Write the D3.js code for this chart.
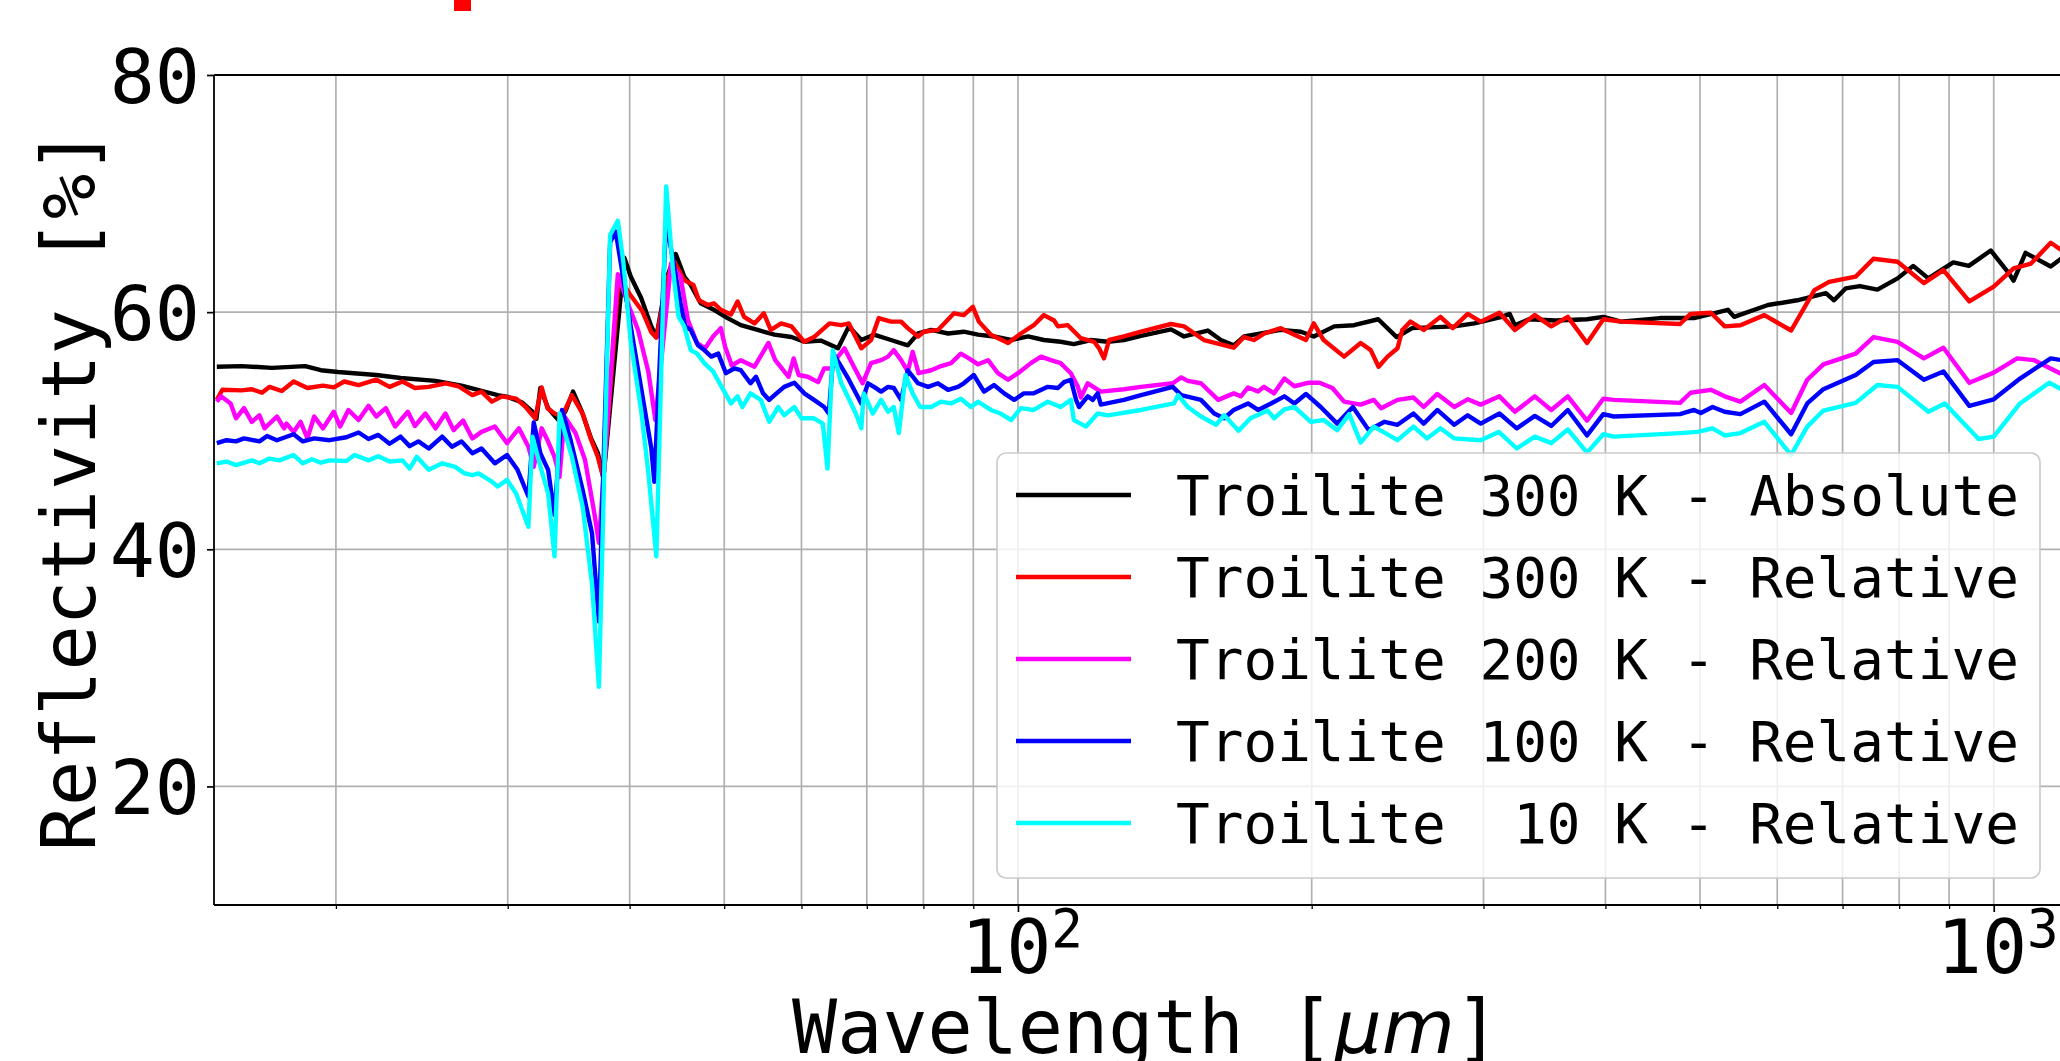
<!DOCTYPE html>
<html><head><meta charset="utf-8">
<script src="https://cdn.jsdelivr.net/npm/d3@7"></script>
<style>
body{margin:0;background:#fff;}
svg{display:block;}
text{font-family:"DejaVu Sans Mono",monospace;}
</style>
</head><body>
<svg id="chart" width="2060" height="1061"></svg>
<script>
// ---------------- data (wavelength in µm, reflectivity in %) ----------------
const seriesLabels = [
  "Troilite 300 K - Absolute",
  "Troilite 300 K - Relative",
  "Troilite 200 K - Relative",
  "Troilite 100 K - Relative",
  "Troilite  10 K - Relative"
];
const seriesColors = ["#000000", "#ff0000", "#ff00ff", "#0000ff", "#00ffff"];

const abs300 = [[15.1,55.4],[16.0,55.45],[17.2,55.3],[18.6,55.45],[19.3,55.1],[20.1,54.95],[22.0,54.7],[23.3,54.45],[25.3,54.2],[26.9,53.8],[28.2,53.35],[29.3,53.0],[30.0,52.85],[31.0,52.4],[31.8,51.6],[32.1,51.0],[32.4,53.6],[33.0,51.9],[33.9,50.8],[34.4,51.7],[35.0,53.3],[35.7,51.7],[36.5,49.4],[37.1,48.15],[37.6,46.0],[39.5,64.6],[40.1,63.0],[41.1,61.2],[42.1,58.8],[42.6,57.9],[43.7,63.0],[44.6,64.9],[45.5,63.0],[46.2,62.3],[47.3,60.75],[48.8,60.2],[50.4,59.5],[52.0,58.9],[54.1,58.5],[56.3,58.1],[58.6,57.9],[60.4,57.5],[62.8,57.6],[65.4,56.95],[67.1,58.8],[69.1,57.65],[71.2,58.1],[74.1,57.65],[77.1,57.2],[79.0,58.2],[81.5,58.5],[84.8,58.2],[88.0,58.35],[91.0,58.1],[94.5,57.95],[98.4,57.65],[102.4,57.95],[106.3,57.65],[110.6,57.5],[114.1,57.3],[118.8,57.65],[123.6,57.5],[128.4,57.65],[133.7,58.0],[143.5,58.55],[148.0,57.95],[156.5,58.45],[161.4,57.65],[166.4,57.2],[170.5,57.95],[185.9,58.5],[195.0,58.35],[201.0,57.95],[210.9,58.8],[221.0,58.9],[234.0,59.4],[244.4,57.9],[253.5,58.65],[280,58.8],[293.6,59.05],[313.2,59.6],[319.1,59.85],[323,58.9],[334,59.4],[355.6,59.3],[383,59.4],[398,59.6],[415,59.2],[455,59.5],[493,59.5],[534,60.2],[542,59.6],[587,60.6],[629,61.0],[673,61.6],[686,61.0],[705,62.0],[729,62.2],[760,61.9],[797,62.85],[827,63.9],[857,62.85],[909,64.2],[943,63.9],[993,65.2],[1036,63.3],[1048,62.65],[1078,65.0],[1109,64.45],[1144,63.85],[1185,64.8]];

const rel300 = [[15.1,52.6],[15.3,53.45],[16.0,53.4],[16.4,53.5],[16.8,53.2],[17.1,53.7],[17.6,53.35],[18.1,54.15],[18.7,53.6],[19.4,53.8],[19.9,53.65],[20.4,54.15],[21.1,53.85],[22.0,54.3],[22.7,53.7],[23.4,54.15],[24.1,53.6],[24.9,53.7],[25.9,54.0],[26.7,53.75],[27.6,53.0],[28.2,53.3],[28.9,52.45],[29.6,52.9],[30.6,52.7],[31.3,52.0],[32.0,51.05],[32.5,53.65],[32.95,51.9],[33.5,51.45],[34.1,51.2],[34.9,53.0],[35.8,51.45],[36.5,49.3],[37.1,47.8],[37.6,46.0],[39.0,63.0],[40.1,61.4],[41.2,60.1],[42.1,58.3],[42.6,57.85],[43.8,63.0],[44.4,64.3],[45.5,62.7],[46.5,62.3],[47.1,61.0],[48.1,60.6],[48.8,60.75],[49.6,60.2],[50.8,59.8],[51.6,60.9],[52.4,59.6],[53.7,59.05],[54.9,59.9],[55.8,58.5],[57.2,59.05],[58.6,58.8],[60.4,57.5],[61.8,57.9],[64.1,59.05],[65.9,58.9],[67.1,59.05],[69.1,56.95],[70.7,57.65],[72.0,59.5],[74.1,59.2],[75.9,59.2],[77.1,58.65],[79.0,57.95],[80.1,58.35],[82.8,58.5],[86.0,59.9],[88.0,59.75],[89.9,60.45],[91.2,59.2],[93.8,58.1],[97.7,57.4],[100.7,58.2],[103.8,58.9],[106.3,59.75],[108.9,59.3],[109.9,58.8],[112.5,58.9],[116.0,57.8],[119.7,57.5],[121.1,56.95],[122.5,56.1],[124.0,57.65],[128.4,57.95],[133.7,58.35],[143.5,59.0],[148.0,58.8],[155.1,57.65],[166.4,57.0],[170.5,57.9],[174.5,57.65],[178.9,58.2],[185.9,58.65],[192.0,58.1],[197.3,57.65],[201.0,59.05],[205.7,57.65],[215.9,56.25],[224.5,57.4],[229.9,56.8],[234.2,55.4],[239.2,56.25],[244.9,56.95],[247.7,58.5],[252.5,59.2],[260.5,58.5],[271,59.6],[279,58.65],[289,59.85],[298,59.2],[311.5,59.95],[323,58.5],[338.6,59.75],[352,58.8],[366,59.6],[383,57.4],[398,59.4],[415,59.2],[477,59.0],[489,59.85],[513,59.95],[530,58.8],[550,58.9],[582,59.75],[620,58.45],[655,61.85],[678,62.55],[722,63.0],[753,64.5],[797,64.25],[848,62.45],[888,63.55],[944,60.9],[1000,62.15],[1048,63.7],[1092,64.1],[1144,65.85],[1185,65.0]];

const rel200 = [[15.1,52.45],[15.25,52.9],[15.6,52.3],[15.8,51.05],[16.1,51.9],[16.4,50.75],[16.7,51.3],[16.9,50.2],[17.4,51.2],[17.7,50.2],[17.8,50.6],[18.1,49.9],[18.4,50.75],[18.7,49.35],[19.0,51.2],[19.4,50.2],[19.9,51.6],[20.2,50.35],[20.6,51.75],[21.1,50.9],[21.6,52.1],[22.0,51.2],[22.5,51.9],[23.0,50.35],[23.7,51.6],[24.1,50.4],[24.7,51.45],[25.3,50.2],[25.9,51.45],[26.4,50.05],[27.0,50.85],[27.6,49.35],[28.2,49.9],[29.1,50.35],[29.95,48.95],[30.8,50.2],[31.5,48.65],[31.9,46.95],[32.5,50.2],[32.95,49.2],[33.5,47.8],[33.9,46.1],[34.3,51.2],[35.2,49.8],[36.0,47.55],[36.8,43.05],[37.2,40.55],[38.9,63.2],[39.8,60.8],[40.8,58.5],[41.8,55.0],[42.5,50.9],[44.1,64.1],[45.1,63.0],[45.9,59.3],[46.9,57.4],[47.8,56.95],[48.7,57.95],[49.6,58.65],[50.1,57.1],[50.9,55.5],[52.0,55.95],[53.7,55.4],[55.5,57.4],[56.4,55.95],[58.2,54.55],[58.9,56.1],[59.6,54.7],[60.9,54.55],[62.4,54.1],[63.3,55.25],[64.3,55.25],[65.4,56.25],[66.4,56.95],[67.9,55.4],[69.3,54.0],[70.7,55.7],[72.4,55.95],[73.6,56.25],[74.6,56.8],[75.9,55.95],[77.1,55.0],[78.0,56.65],[79.1,54.85],[81.5,55.1],[83.4,55.45],[85.4,55.7],[87.4,56.5],[89.5,56.0],[91.0,55.6],[93.2,55.95],[95.4,54.85],[97.7,54.3],[100.0,54.85],[103.1,55.7],[105.6,56.25],[108.1,55.95],[110.6,55.7],[113.3,54.85],[115.2,53.7],[116.0,52.8],[117.9,54.0],[121.6,53.3],[128.4,53.5],[133.7,53.7],[144.1,54.0],[147.0,54.5],[149.3,54.2],[154.0,54.0],[160.4,52.6],[166.4,53.15],[169.2,52.9],[172.1,53.65],[176.2,53.3],[178.7,53.7],[183.0,53.15],[187.5,54.4],[192.0,53.75],[198.6,54.05],[203.7,54.05],[210.0,53.6],[215.9,52.45],[224.5,52.2],[231.6,52.6],[235.6,51.9],[244.9,52.6],[254.3,52.8],[260.5,52.0],[269,53.1],[280,52.0],[289,52.65],[298,52.2],[311.5,52.9],[323,51.6],[338.6,52.9],[352,51.75],[366,52.9],[383,50.85],[398,52.7],[408,52.6],[477,52.35],[489,53.2],[513,53.45],[530,52.9],[550,52.45],[582,53.85],[620,51.5],[644,54.3],[669,55.6],[722,56.5],[753,57.9],[797,57.5],[848,56.1],[888,57.0],[944,54.05],[1000,54.9],[1057,56.1],[1100,55.95],[1185,54.6]];

const rel100 = [[15.1,48.95],[15.45,49.2],[15.8,49.1],[16.1,49.35],[16.7,49.1],[17.0,49.55],[17.4,49.2],[18.1,49.7],[18.5,49.1],[19.0,49.35],[19.7,49.2],[20.5,49.45],[21.1,49.85],[21.6,49.3],[22.1,49.65],[22.7,48.9],[23.3,49.5],[23.8,48.7],[24.3,49.1],[24.9,48.5],[25.7,49.5],[26.3,48.65],[26.9,49.1],[27.6,48.1],[28.2,48.5],[29.1,47.25],[29.95,47.95],[30.7,46.7],[31.5,44.45],[31.9,50.7],[32.4,48.1],[33.0,46.7],[33.5,42.9],[34.1,51.75],[34.8,49.2],[35.8,45.0],[36.6,41.35],[37.2,33.9],[38.2,65.9],[38.7,66.8],[39.2,64.0],[40.1,58.8],[41.1,53.6],[42.1,48.5],[42.4,45.7],[43.6,67.7],[44.3,64.4],[45.1,60.75],[45.6,58.8],[46.2,58.5],[47.0,57.2],[47.7,56.8],[48.5,56.25],[49.3,56.5],[50.2,54.85],[51.2,55.25],[52.0,55.1],[53.2,54.0],[53.9,54.55],[54.8,53.15],[55.6,52.6],[56.3,53.0],[57.6,53.7],[59.0,54.05],[60.4,53.15],[61.8,52.6],[63.3,52.0],[64.0,51.45],[64.7,56.5],[65.9,55.4],[67.1,54.3],[69.1,52.3],[70.2,54.0],[71.2,53.7],[72.4,53.3],[73.6,53.7],[74.6,53.6],[75.9,52.6],[77.1,55.1],[79.0,54.0],[80.9,53.7],[82.8,54.0],[84.8,53.45],[86.8,53.7],[88.0,54.0],[90.1,54.7],[92.3,53.3],[94.5,53.85],[96.8,53.15],[99.1,52.6],[101.4,53.15],[103.8,53.15],[107.3,53.7],[109.9,53.6],[111.5,54.1],[113.3,54.3],[114.7,52.6],[115.5,52.0],[117.9,52.9],[119.3,52.6],[120.7,53.15],[121.6,52.2],[128.4,52.6],[133.7,53.0],[144.1,53.7],[147.0,53.0],[154.0,52.6],[158.9,51.45],[162.7,51.05],[166.4,51.75],[172.1,52.3],[176.2,51.75],[181.7,52.3],[187.5,52.9],[192.0,52.3],[197.3,53.1],[204.3,52.0],[212.4,50.6],[220.4,52.0],[228.8,50.05],[237.5,50.75],[244.9,50.5],[254.3,51.45],[260.5,50.6],[269,51.75],[280,50.5],[289,51.3],[298,50.6],[311.5,51.45],[324.5,50.2],[338.6,51.25],[352,50.4],[366,51.75],[383,49.6],[398,51.4],[408,51.2],[477,51.4],[493,51.75],[501,51.5],[515,52.0],[530,51.6],[550,51.4],[582,52.45],[620,49.7],[644,52.3],[669,53.5],[722,54.7],[753,55.8],[797,55.95],[848,54.3],[888,55.0],[944,52.1],[1000,52.65],[1064,54.4],[1144,56.1],[1185,55.9]];

const rel10 = [[15.1,47.25],[15.45,47.4],[15.8,47.1],[16.4,47.5],[16.7,47.25],[17.1,47.65],[17.5,47.5],[18.1,47.95],[18.5,47.25],[18.9,47.6],[19.3,47.3],[19.7,47.5],[20.5,47.45],[20.9,47.95],[21.6,47.5],[22.1,47.85],[22.7,47.4],[23.4,47.5],[23.8,46.8],[24.2,47.8],[24.9,46.7],[25.7,47.25],[26.5,46.95],[27.1,46.4],[27.6,46.25],[28.0,46.4],[28.9,45.7],[29.3,45.3],[29.95,45.85],[30.6,44.7],[31.5,41.9],[31.8,49.5],[32.4,47.0],[33.0,44.7],[33.5,39.4],[33.9,51.45],[34.9,47.8],[35.8,43.6],[36.6,37.1],[37.2,28.4],[38.2,66.5],[38.9,67.7],[39.4,64.3],[40.1,57.5],[41.1,51.7],[41.8,46.5],[42.6,39.4],[43.6,70.6],[44.3,63.55],[44.9,59.6],[45.5,58.8],[46.2,56.8],[46.9,56.5],[47.7,55.7],[48.7,55.0],[49.7,53.7],[50.8,52.3],[51.6,52.9],[52.2,52.0],[53.2,53.15],[54.5,52.6],[55.6,50.75],[56.8,52.0],[57.6,51.3],[59.0,52.0],[60.0,51.05],[61.8,51.05],[63.1,50.6],[63.8,46.8],[64.6,56.8],[65.9,54.0],[66.9,52.9],[68.2,51.45],[69.1,50.2],[69.5,53.15],[71.0,51.45],[72.4,52.6],[73.6,51.6],[74.6,52.0],[75.5,49.8],[76.7,54.7],[78.0,53.15],[79.4,52.0],[81.5,52.0],[83.4,52.45],[85.4,52.3],[87.4,52.7],[89.5,52.0],[91.0,52.45],[93.8,51.75],[96.0,51.45],[98.4,50.9],[100.7,51.9],[103.8,51.75],[107.3,52.45],[110.6,52.0],[113.3,52.6],[114.1,50.9],[117.4,50.35],[120.7,51.45],[123.6,51.3],[133.7,51.75],[144.5,52.3],[145.9,53.0],[149.3,52.0],[154.0,51.2],[159.6,50.5],[162.7,51.3],[168.3,50.0],[173.1,51.05],[180.3,51.7],[183.0,51.05],[187.5,51.8],[192.0,52.0],[199.6,50.75],[205.7,50.9],[212.4,50.05],[218.5,51.4],[224.5,49.0],[231.6,50.35],[244.9,49.2],[254.3,50.35],[262.5,49.35],[271,50.2],[280,49.35],[298,49.2],[311,49.9],[324.5,48.5],[338.6,49.5],[352,48.95],[366,50.1],[383,48.15],[398,49.7],[408,49.5],[477,49.8],[497,49.9],[515,50.2],[530,49.6],[550,49.8],[582,50.75],[620,47.95],[644,50.35],[669,51.7],[722,52.35],[760,53.85],[797,53.7],[857,51.6],[891,52.3],[965,49.3],[1000,49.5],[1064,52.3],[1140,54.05],[1185,53.3]];

const seriesData = [abs300, rel300, rel200, rel100, rel10];

const xMajorTicks = [100, 1000];
const xMinorTicks = [20, 30, 40, 50, 60, 70, 80, 90, 200, 300, 400, 500, 600, 700, 800, 900];
const xTickExponents = ["2", "3"];
const yTicks = [20, 40, 60, 80];
const xLabel = "Wavelength [";
const xLabelUnit = "μm";
const yLabel = "Reflectivity [%]";

// ---------------- drawing ----------------
const svg = d3.select("#chart");
const L = 214, R = 2078, T = 75, B = 905;
const x = d3.scaleLog().domain([15, 1220]).range([L, R]);
const y = d3.scaleLinear().domain([10, 80]).range([B, T]);

svg.append("rect").attr("width", 2060).attr("height", 1061).attr("fill", "#fff");

// red fragment of the (cropped) title at the top edge
svg.append("rect").attr("x", 454).attr("y", 0).attr("width", 17).attr("height", 11).attr("fill", "#ff0000");

// grid
const grid = svg.append("g").attr("stroke", "#b0b0b0").attr("stroke-width", 1.7);
grid.selectAll("line.vx").data(xMajorTicks.concat(xMinorTicks)).enter().append("line")
  .attr("x1", d => x(d)).attr("x2", d => x(d)).attr("y1", T).attr("y2", B);
grid.selectAll("line.hy").data(yTicks).enter().append("line")
  .attr("x1", L).attr("x2", R).attr("y1", d => y(d)).attr("y2", d => y(d));

// clip
svg.append("clipPath").attr("id", "plotclip").append("rect")
  .attr("x", L).attr("y", T).attr("width", R - L).attr("height", B - T);

const line = d3.line().x(d => x(d[0])).y(d => y(d[1]));
const lines = svg.append("g").attr("clip-path", "url(#plotclip)");
seriesData.forEach((s, i) => {
  lines.append("path").datum(s)
    .attr("d", line)
    .attr("fill", "none")
    .attr("stroke", seriesColors[i])
    .attr("stroke-width", 4.4)
    .attr("stroke-linejoin", "round")
    .attr("stroke-linecap", "butt");
});

// axes
const yAxis = d3.axisLeft(y).tickValues(yTicks).tickSize(7).tickPadding(7).tickFormat(d3.format("d"));
const gy = svg.append("g").attr("transform", `translate(${L},0)`).call(yAxis);
gy.select(".domain").remove();
gy.selectAll(".tick line").attr("stroke", "#000").attr("stroke-width", 1.7);
gy.selectAll(".tick text").attr("font-family", "DejaVu Sans Mono").attr("font-size", 75).attr("dy", "0.36em").attr("fill", "#000");

const xAxisMajor = d3.axisBottom(x).tickValues(xMajorTicks).tickSize(7).tickFormat("");
const gx = svg.append("g").attr("transform", `translate(0,${B})`).call(xAxisMajor);
gx.select(".domain").remove();
gx.selectAll(".tick line").attr("stroke", "#000").attr("stroke-width", 1.7);
const xAxisMinor = d3.axisBottom(x).tickValues(xMinorTicks).tickSize(4).tickFormat("");
const gxm = svg.append("g").attr("transform", `translate(0,${B})`).call(xAxisMinor);
gxm.select(".domain").remove();
gxm.selectAll(".tick line").attr("stroke", "#000").attr("stroke-width", 1.3);

// x tick labels 10^n
xMajorTicks.forEach((v, i) => {
  const t = svg.append("text").attr("x", x(v) + 4).attr("y", 973)
    .attr("text-anchor", "middle").attr("font-size", 75).attr("fill", "#000");
  t.append("tspan").text("10");
  t.append("tspan").attr("font-size", 52.5).attr("dy", -26).text(xTickExponents[i]);
});

// spines
svg.append("line").attr("x1", L).attr("x2", L).attr("y1", T).attr("y2", B).attr("stroke", "#000").attr("stroke-width", 1.8);
svg.append("line").attr("x1", L).attr("x2", R).attr("y1", B).attr("y2", B).attr("stroke", "#000").attr("stroke-width", 1.8);
svg.append("line").attr("x1", L).attr("x2", R).attr("y1", T).attr("y2", T).attr("stroke", "#000").attr("stroke-width", 1.8);
svg.append("line").attr("x1", R).attr("x2", R).attr("y1", T).attr("y2", B).attr("stroke", "#000").attr("stroke-width", 1.8);

// axis labels
const xl = svg.append("text").attr("x", (L + R) / 2).attr("y", 1053)
  .attr("text-anchor", "middle").attr("font-size", 75).attr("fill", "#000");
xl.append("tspan").text(xLabel);
xl.append("tspan").attr("font-family", "DejaVu Sans").attr("font-style", "italic").text(xLabelUnit);
xl.append("tspan").text("]");

svg.append("text").attr("transform", `translate(95,${(T + B) / 2}) rotate(-90)`)
  .attr("text-anchor", "middle").attr("font-size", 75).attr("fill", "#000").text(yLabel);

// legend
const lg = svg.append("g");
lg.append("rect").attr("x", 997).attr("y", 453).attr("width", 1043).attr("height", 425)
  .attr("rx", 9).attr("fill", "#fff").attr("fill-opacity", 0.8)
  .attr("stroke", "#cccccc").attr("stroke-width", 1.7);
seriesLabels.forEach((lab, i) => {
  const cy = 495 + i * 82;
  lg.append("line").attr("x1", 1016).attr("x2", 1131).attr("y1", cy).attr("y2", cy)
    .attr("stroke", seriesColors[i]).attr("stroke-width", 4.4);
  lg.append("text").attr("x", 1176).attr("y", cy).attr("dy", "0.36em")
    .attr("font-size", 56).attr("fill", "#000").style("white-space", "pre").text(lab);
});
</script>
</body></html>
